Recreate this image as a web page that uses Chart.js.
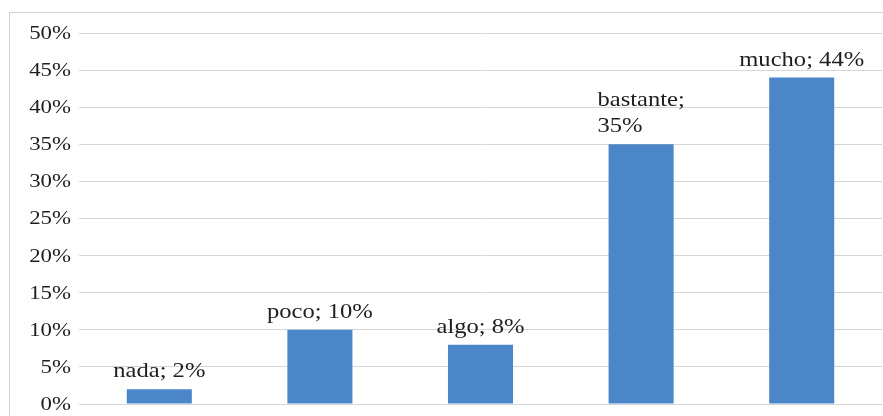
<!DOCTYPE html>
<html>
<head>
<meta charset="utf-8">
<script src="https://cdn.jsdelivr.net/npm/chart.js@4/dist/chart.umd.min.js"></script>
<style>
  html, body { margin: 0; padding: 0; background: #fff; }
  #wrap { position: relative; width: 883px; height: 416px; overflow: hidden; }
  #frame { position: absolute; left: 9px; top: 12px; width: 900px; height: 420px;
           border: 1px solid #d3d3d3; box-sizing: border-box; }
  #c { position: absolute; left: 0; top: 0; }
</style>
</head>
<body>
<div id="wrap">
  <div id="frame"></div>
  <canvas id="c" width="883" height="416"></canvas>
</div>
<script>
// Responses per level
const categories = ['nada', 'poco', 'algo', 'bastante', 'mucho'];
const percentages = [2, 10, 8, 35, 44];
const yTicks = [0, 5, 10, 15, 20, 25, 30, 35, 40, 45, 50];

const BAR_COLOR = '#4a86c8';
const TEXT_COLOR = '#1e1e1e';
const SERIF = '"Liberation Serif", "Times New Roman", serif';

// Draws text horizontally widened by factor sx, anchored by align at (x, y)
function wideText(ctx, text, x, y, sx, align) {
  const w = ctx.measureText(text).width * sx;
  let left = x;
  if (align === 'right') left = x - w;
  else if (align === 'center') left = x - w / 2;
  ctx.save();
  ctx.translate(left, y);
  ctx.scale(sx, 1);
  ctx.textAlign = 'left';
  ctx.fillText(text, 0, 0);
  ctx.restore();
}

// Percentage labels on the value axis
const axisLabels = {
  id: 'axisLabels',
  afterDraw(chart) {
    const ctx = chart.ctx;
    const y = chart.scales.y;
    ctx.save();
    ctx.font = '19px ' + SERIF;
    ctx.fillStyle = TEXT_COLOR;
    ctx.textBaseline = 'middle';
    yTicks.forEach(v => {
      wideText(ctx, v + '%', 71, y.getPixelForValue(v) + 1, 1.2, 'right');
    });
    ctx.restore();
  }
};

// Writes "category; value%" above each bar, wrapping long labels onto two lines
const barLabels = {
  id: 'barLabels',
  afterDatasetsDraw(chart) {
    const ctx = chart.ctx;
    const meta = chart.getDatasetMeta(0);
    const sx = 1.17;
    ctx.save();
    ctx.font = '21px ' + SERIF;
    ctx.fillStyle = TEXT_COLOR;
    ctx.textBaseline = 'alphabetic';
    const maxWidth = 130;
    const lineHeight = 26;
    meta.data.forEach((bar, i) => {
      const full = categories[i] + '; ' + percentages[i] + '%';
      let lines = [full];
      if (ctx.measureText(full).width * sx > maxWidth) {
        lines = [categories[i] + ';', percentages[i] + '%'];
      }
      const w = Math.max(...lines.map(l => ctx.measureText(l).width * sx));
      const left = bar.x - w / 2;
      const baseY = bar.y - 12;
      lines.forEach((l, k) => {
        wideText(ctx, l, left, baseY - (lines.length - 1 - k) * lineHeight, sx, 'left');
      });
    });
    ctx.restore();
  }
};

new Chart(document.getElementById('c'), {
  type: 'bar',
  data: {
    labels: categories,
    datasets: [{
      data: percentages,
      backgroundColor: BAR_COLOR,
      borderWidth: 0,
      barPercentage: 0.405,
      categoryPercentage: 1.0
    }]
  },
  options: {
    responsive: false,
    animation: false,
    devicePixelRatio: 1,
    layout: { padding: { top: 33, bottom: 12, left: 0, right: 1 } },
    plugins: { legend: { display: false }, tooltip: { enabled: false } },
    scales: {
      x: {
        display: false,
        grid: { display: false }
      },
      y: {
        min: 0,
        max: 50,
        afterBuildTicks(scale) {
          scale.ticks = yTicks.map(v => ({ value: v }));
        },
        afterFit(scale) {
          scale.width = 79;
          scale.paddingTop = 0;
          scale.paddingBottom = 0;
        },
        border: { display: false },
        grid: { color: '#d6d6d6', lineWidth: 1, drawTicks: false },
        ticks: { display: false }
      }
    }
  },
  plugins: [barLabels, axisLabels]
});
</script>
</body>
</html>
